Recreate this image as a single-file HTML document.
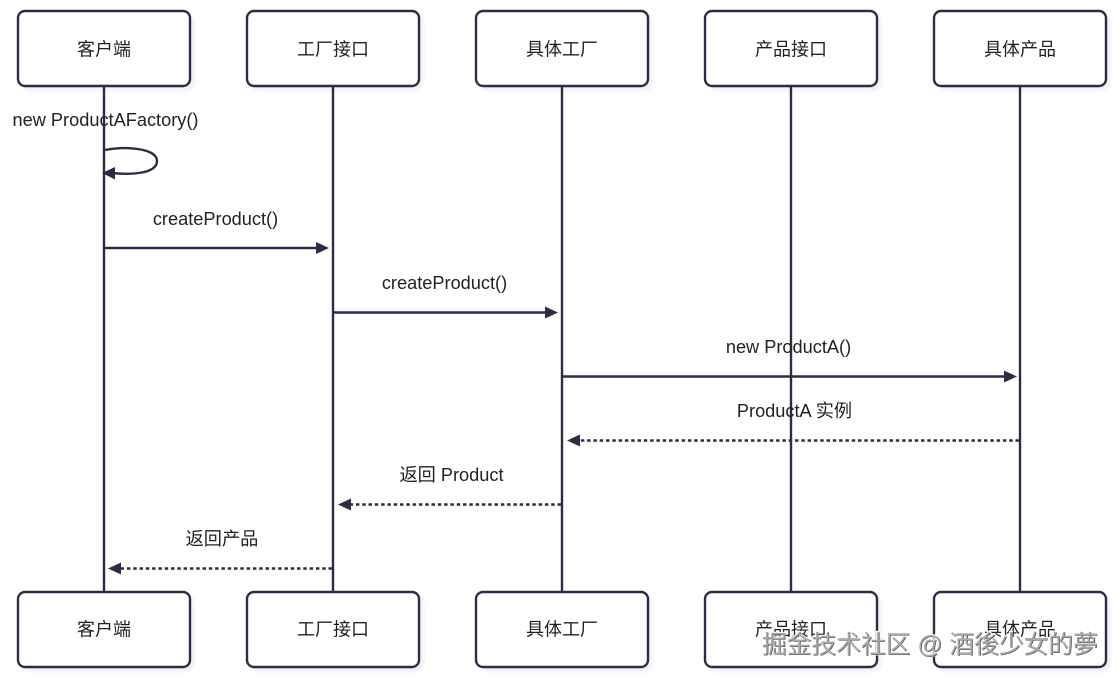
<!DOCTYPE html>
<html>
<head>
<meta charset="utf-8">
<style>
html,body{margin:0;padding:0;background:#fff;width:1118px;height:678px;overflow:hidden}
svg{display:block}
text{font-family:"Liberation Sans","Noto Sans CJK SC",sans-serif;fill:#222;font-size:18px}
.m{text-anchor:middle}
.t{font-size:18.2px}
.b{fill:#fff;stroke:#2c2c44;stroke-width:2.4}
.s{fill:#000;opacity:.07;filter:url(#blur)}
.l{stroke:#2c2c44;stroke-width:2.4;fill:none}
.d{stroke:#2c2c44;stroke-width:2.4;fill:none;stroke-dasharray:3.5 2.8}
.a{fill:#2c2c44}
.w{font-size:24.75px}
.w1{fill:#fff;stroke:#fff;stroke-width:2px}
.w2{fill:#444}
.w3{fill:#aaa}
</style>
</head>
<body>
<svg width="1118" height="678" viewBox="0 0 1118 678" xmlns="http://www.w3.org/2000/svg">
<defs><filter id="blur" x="-10%" y="-20%" width="120%" height="140%"><feGaussianBlur stdDeviation="2.5"/></filter></defs>
<rect width="1118" height="678" fill="#fff"/>

<g>
<rect class="s" x="22" y="15" width="172" height="75" rx="7"/>
<rect class="s" x="251" y="15" width="172" height="75" rx="7"/>
<rect class="s" x="480" y="15" width="172" height="75" rx="7"/>
<rect class="s" x="709" y="15" width="172" height="75" rx="7"/>
<rect class="s" x="938" y="15" width="172" height="75" rx="7"/>
<rect class="s" x="22" y="596" width="172" height="75" rx="7"/>
<rect class="s" x="251" y="596" width="172" height="75" rx="7"/>
<rect class="s" x="480" y="596" width="172" height="75" rx="7"/>
<rect class="s" x="709" y="596" width="172" height="75" rx="7"/>
<rect class="s" x="938" y="596" width="172" height="75" rx="7"/>
</g>

<line class="l" x1="104" y1="86" x2="104" y2="592"/>
<line class="l" x1="333" y1="86" x2="333" y2="592"/>
<line class="l" x1="562" y1="86" x2="562" y2="592"/>
<line class="l" x1="791" y1="86" x2="791" y2="592"/>
<line class="l" x1="1020" y1="86" x2="1020" y2="592"/>

<g>
<rect class="b" x="18" y="11" width="172" height="75" rx="7"/>
<rect class="b" x="247" y="11" width="172" height="75" rx="7"/>
<rect class="b" x="476" y="11" width="172" height="75" rx="7"/>
<rect class="b" x="705" y="11" width="172" height="75" rx="7"/>
<rect class="b" x="934" y="11" width="172" height="75" rx="7"/>
<rect class="b" x="18" y="592" width="172" height="75" rx="7"/>
<rect class="b" x="247" y="592" width="172" height="75" rx="7"/>
<rect class="b" x="476" y="592" width="172" height="75" rx="7"/>
<rect class="b" x="705" y="592" width="172" height="75" rx="7"/>
<rect class="b" x="934" y="592" width="172" height="75" rx="7"/>
</g>

<g>
<text class="m" x="104" y="55.500">客户端</text>
<text class="m" x="333" y="55.500">工厂接口</text>
<text class="m" x="562" y="55.500">具体工厂</text>
<text class="m" x="791" y="55.500">产品接口</text>
<text class="m" x="1020" y="55.500">具体产品</text>
<text class="m" x="104" y="635.500">客户端</text>
<text class="m" x="333" y="635.500">工厂接口</text>
<text class="m" x="562" y="635.500">具体工厂</text>
<text class="m" x="791" y="635.500">产品接口</text>
<text class="m" x="1020" y="635.500">具体产品</text>
</g>

<text class="m t" x="105.500" y="126">new ProductAFactory()</text>
<path class="l" d="M105 150 C125 146 157 148 157 161 C157 174 130 175 112 173"/>
<polygon class="a" points="102,173 115,167 115,179.500"/>

<text class="m t" x="215.500" y="225">createProduct()</text>
<line class="l" x1="105" y1="248" x2="318" y2="248"/>
<polygon class="a" points="329,248 316,242 316,254"/>

<text class="m t" x="444.500" y="289">createProduct()</text>
<line class="l" x1="334" y1="312.500" x2="547" y2="312.500"/>
<polygon class="a" points="558,312.500 545,306.500 545,318.500"/>

<text class="m t" x="788.500" y="353">new ProductA()</text>
<line class="l" x1="563" y1="376.500" x2="1005" y2="376.500"/>
<polygon class="a" points="1017,376.500 1004,370.500 1004,382.500"/>

<text class="m t" x="794.500" y="417">ProductA 实例</text>
<line class="d" x1="1019" y1="440.500" x2="578" y2="440.500"/>
<polygon class="a" points="567,440.500 580,434.500 580,446.500"/>

<text class="m t" x="451.500" y="481">返回 Product</text>
<line class="d" x1="561" y1="504.500" x2="349" y2="504.500"/>
<polygon class="a" points="338,504.500 351,498.500 351,510.500"/>

<text class="m t" x="222" y="545">返回产品</text>
<line class="d" x1="332" y1="568.500" x2="120" y2="568.500"/>
<polygon class="a" points="108,568.500 121,562.500 121,574.500"/>

<text class="w w1" x="762" y="653">掘金技术社区 @ 酒後少女的夢</text>
<text class="w w2" x="762.600" y="653.600">掘金技术社区 @ 酒後少女的夢</text>
<text class="w w3" x="762" y="653">掘金技术社区 @ 酒後少女的夢</text>
</svg>
</body>
</html>
